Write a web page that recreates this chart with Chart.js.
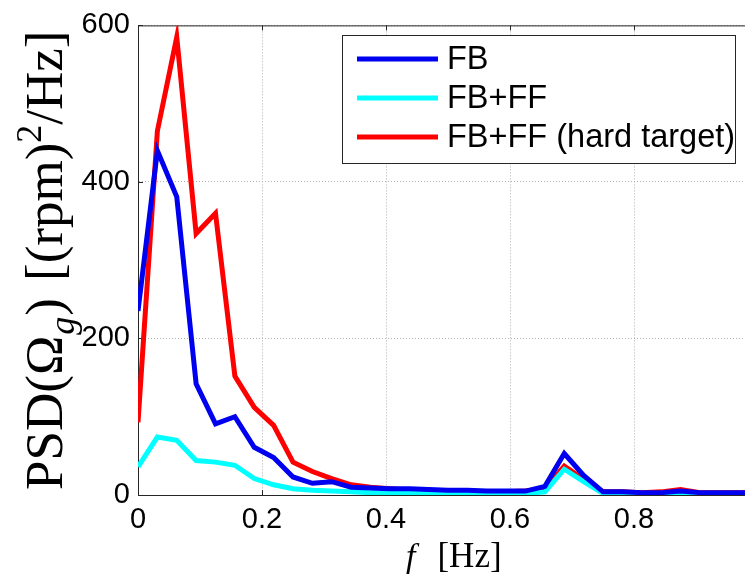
<!DOCTYPE html>
<html>
<head>
<meta charset="utf-8">
<script src="https://cdn.jsdelivr.net/npm/chart.js@4.4.1/dist/chart.umd.min.js"></script>
<style>
  body { margin: 0; background: #fff; }
  #wrap { width: 745px; height: 580px; position: relative; }
</style>
</head>
<body>
<div id="wrap"><canvas id="psdChart"></canvas></div>
<script>
// frequency bins [Hz], step 1/32
const freq = [0, 0.03125, 0.0625, 0.09375, 0.125, 0.15625, 0.1875, 0.21875, 0.25, 0.28125,
  0.3125, 0.34375, 0.375, 0.40625, 0.4375, 0.46875, 0.5, 0.53125, 0.5625, 0.59375,
  0.625, 0.65625, 0.6875, 0.71875, 0.75, 0.78125, 0.8125, 0.84375, 0.875, 0.90625,
  0.9375, 0.96875, 1.0];

const psdFB = [235, 440, 381, 142, 91, 100, 61, 48, 23, 15,
  17, 10, 9, 8, 8, 7, 6, 6, 5, 5,
  5, 11, 53, 25, 4, 4, 3, 3, 5, 3,
  3, 3, 3];

const psdFBFF = [36, 74, 70, 44, 42, 38, 21, 13, 8, 6,
  5, 4, 3, 3, 3, 2, 2, 2, 2, 2,
  2, 4, 33, 17, 2, 2, 2, 2, 3, 2,
  2, 2, 2];

const psdHard = [93, 465, 585, 334, 360, 152, 112, 89, 42, 30,
  21, 13, 10, 8, 6, 5, 5, 5, 4, 4,
  5, 8, 37, 20, 4, 4, 3, 4, 7, 3,
  3, 3, 3];

const seriesNames = ["FB", "FB+FF", "FB+FF (hard target)"];
const xTicks = [0, 0.2, 0.4, 0.6, 0.8];
const yTicks = [0, 200, 400, 600];

function toPoints(ys) {
  return freq.map((f, i) => ({ x: f, y: ys[i] }));
}

// draws a run of [text, font, dy, gapAfter] pieces one after another
function drawRuns(ctx, runs, x, y) {
  let cx = x;
  runs.forEach(([txt, font, dy, gap]) => {
    ctx.font = font;
    ctx.fillText(txt, cx, y + (dy || 0));
    cx += ctx.measureText(txt).width + (gap || 0);
  });
}
function runsWidth(ctx, runs) {
  let w = 0;
  runs.forEach(([txt, font, dy, gap]) => {
    ctx.font = font;
    w += ctx.measureText(txt).width + (gap || 0);
  });
  return w;
}

// box frame with inward ticks, axis titles and the legend
const decorations = {
  id: "decorations",
  beforeDatasetsDraw(chart) {
    const { ctx, chartArea: a, scales } = chart;
    ctx.save();
    ctx.strokeStyle = "#262626";
    ctx.lineWidth = 1;
    ctx.beginPath();
    ctx.moveTo(a.left, a.top + 0.5);
    ctx.lineTo(a.right, a.top + 0.5);
    xTicks.forEach((v) => {
      const px = Math.round(scales.x.getPixelForValue(v)) + 0.5;
      ctx.moveTo(px, a.top);
      ctx.lineTo(px, a.top + 5);
      ctx.moveTo(px, a.bottom);
      ctx.lineTo(px, a.bottom - 5);
    });
    yTicks.forEach((v) => {
      const py = Math.round(scales.y.getPixelForValue(v)) + 0.5;
      ctx.moveTo(a.left, py);
      ctx.lineTo(a.left + 5, py);
    });
    ctx.stroke();
    ctx.restore();
  },
  afterDraw(chart) {
    const { ctx, chartArea: a } = chart;
    const serif = "'Liberation Serif', 'Times New Roman', serif";
    ctx.save();
    ctx.fillStyle = "#000";
    ctx.textBaseline = "alphabetic";

    // x title
    const xRuns = [["f", "italic 34px " + serif, 0, 22], ["[Hz]", "35px " + serif]];
    drawRuns(ctx, xRuns, 406, 567);

    // y title, rotated
    const yRuns = [
      ["PSD(Ω", "53px " + serif, 0, 1],
      ["g", "italic 36px " + serif, 12, 1],
      [")", "53px " + serif, 0, 17],
      ["[(rpm)", "53px " + serif],
      ["2", "36px " + serif, -21],
      ["/Hz]", "53px " + serif]
    ];
    const yw = runsWidth(ctx, yRuns);
    ctx.translate(62, (a.top + a.bottom) / 2);
    ctx.rotate(-Math.PI / 2);
    drawRuns(ctx, yRuns, -yw / 2, 0);
    ctx.restore();

    // legend
    ctx.save();
    const box = { x: 342, y: 35, w: 393, h: 128 };
    ctx.fillStyle = "#fff";
    ctx.fillRect(box.x, box.y, box.w, box.h);
    ctx.strokeStyle = "#262626";
    ctx.lineWidth = 1;
    ctx.strokeRect(box.x + 0.5, box.y + 0.5, box.w, box.h);
    ctx.font = "32.5px 'Liberation Sans', Arial, sans-serif";
    ctx.textBaseline = "middle";
    chart.data.datasets.forEach((ds, i) => {
      const ly = 59 + i * 39;
      ctx.strokeStyle = ds.borderColor;
      ctx.lineWidth = 5;
      ctx.beginPath();
      ctx.moveTo(357, ly);
      ctx.lineTo(438, ly);
      ctx.stroke();
      ctx.fillStyle = "#000";
      ctx.fillText(ds.label, 447, ly + 1);
    });
    ctx.restore();
  }
};

const dataConfig = {
  datasets: [
    { label: seriesNames[0], data: toPoints(psdFB), borderColor: "#0000f0" },
    { label: seriesNames[1], data: toPoints(psdFBFF), borderColor: "#00ffff" },
    { label: seriesNames[2], data: toPoints(psdHard), borderColor: "#ff0000" }
  ].map((d) => Object.assign(d, {
    borderWidth: 5,
    pointRadius: 0,
    tension: 0,
    fill: false,
    borderJoinStyle: "miter"
  }))
};

const config = {
  type: "line",
  data: dataConfig,
  options: {
    responsive: true,
    maintainAspectRatio: false,
    animation: false,
    layout: { padding: { top: 22, right: 0, left: 0, bottom: 0 } },
    plugins: {
      legend: { display: false },
      tooltip: { enabled: false }
    },
    scales: {
      x: {
        type: "linear",
        min: 0,
        max: 0.979,
        afterBuildTicks: (scale) => { scale.ticks = xTicks.map((v) => ({ value: v })); },
        afterFit: (scale) => { scale.height = 85; },
        ticks: {
          color: "#000",
          font: { family: "'Liberation Sans', Arial, sans-serif", size: 29 },
          padding: 8,
          maxRotation: 0,
          callback: (v) => String(v)
        },
        grid: { color: "#b0b0b0", lineWidth: 1, drawTicks: false },
        border: { color: "#262626", width: 1, dash: [1, 2] }
      },
      y: {
        min: 0,
        max: 600,
        afterBuildTicks: (scale) => { scale.ticks = yTicks.map((v) => ({ value: v })); },
        afterFit: (scale) => { scale.width = 138; },
        ticks: {
          color: "#000",
          font: { family: "'Liberation Sans', Arial, sans-serif", size: 29 },
          padding: 8
        },
        grid: { color: "#b0b0b0", lineWidth: 1, drawTicks: false },
        border: { color: "#262626", width: 1, dash: [1, 2] }
      }
    }
  },
  plugins: [decorations]
};

const psdChart = new Chart(document.getElementById("psdChart"), config);
</script>
</body>
</html>
